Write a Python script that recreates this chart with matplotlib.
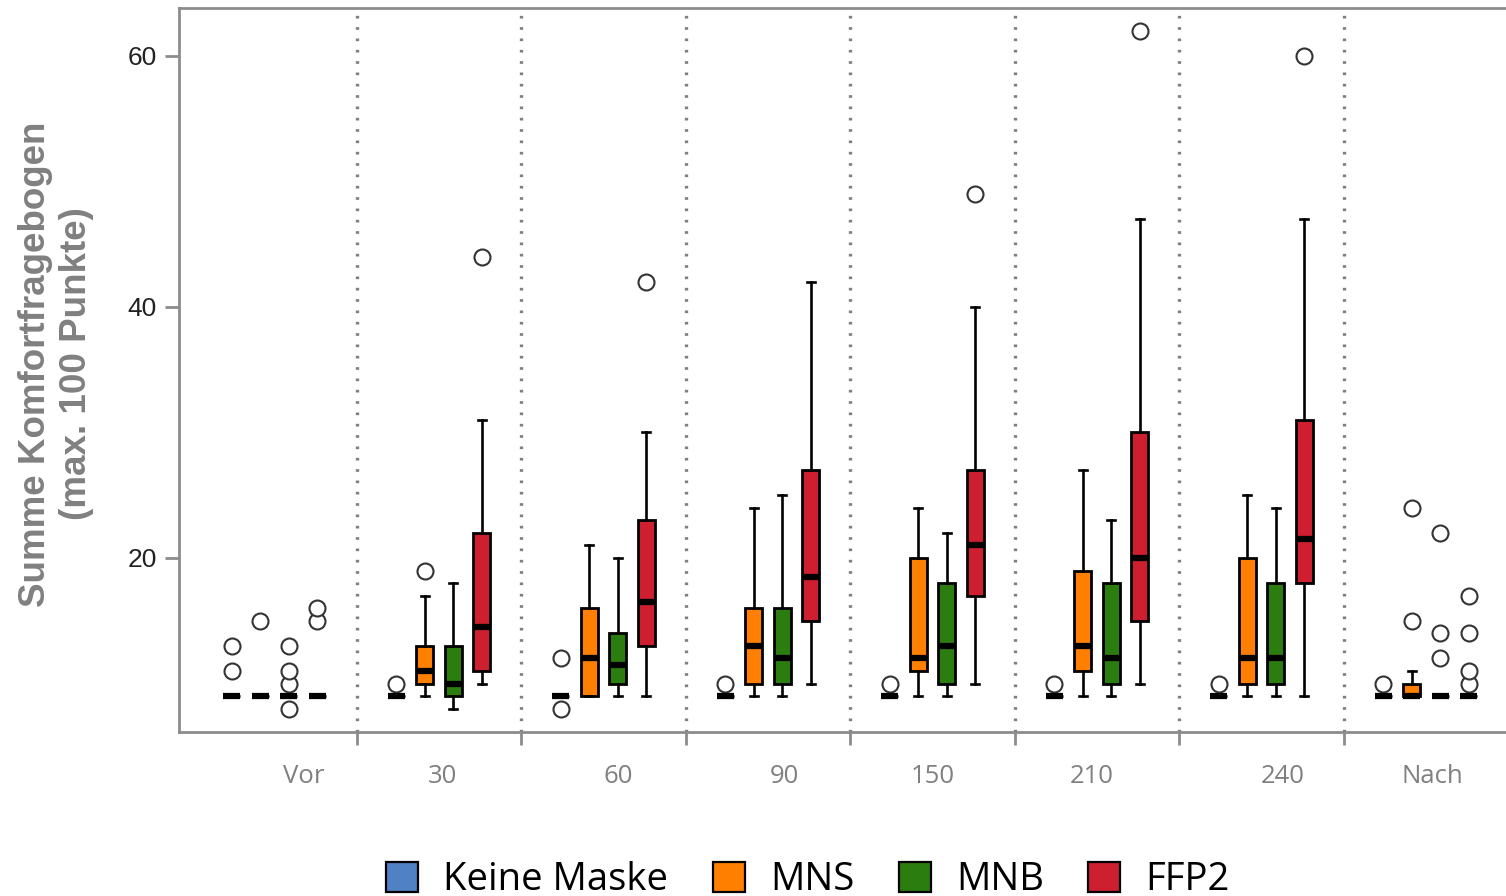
import matplotlib
matplotlib.use("Agg")
import matplotlib.pyplot as plt
from matplotlib.patches import Patch

# Measurement points and series
groups = ["Vor", "30", "60", "90", "150", "210", "240", "Nach"]
series = ["Keine Maske", "MNS", "MNB", "FFP2"]
colors = ["#4f81c4", "#ff8000", "#2b7d10", "#cd1f2f"]

# Five-number summaries per group: (whisker low, Q1, median, Q3, whisker high)
keine_stats = [(9, 9, 9, 9, 9)] * 8
keine_out = [[11, 13], [10], [8, 12], [10], [10], [10], [10], [10]]

mns_stats = [(9, 9, 9, 9, 9), (9, 10, 11, 13, 17), (9, 9, 12, 16, 21),
             (9, 10, 13, 16, 24), (9, 11, 12, 20, 24), (9, 11, 13, 19, 27),
             (9, 10, 12, 20, 25), (9, 9, 9, 10, 11)]
mns_out = [[15], [19], [], [], [], [], [], [15, 24]]

mnb_stats = [(9, 9, 9, 9, 9), (8, 9, 10, 13, 18), (9, 10, 11.5, 14, 20),
             (9, 10, 12, 16, 25), (9, 10, 13, 18, 22), (9, 10, 12, 18, 23),
             (9, 10, 12, 18, 24), (9, 9, 9, 9, 9)]
mnb_out = [[8, 10, 11, 13], [], [], [], [], [], [], [12, 14, 22]]

ffp2_stats = [(9, 9, 9, 9, 9), (10, 11, 14.5, 22, 31), (9, 13, 16.5, 23, 30),
              (10, 15, 18.5, 27, 42), (10, 17, 21, 27, 40), (10, 15, 20, 30, 47),
              (9, 18, 21.5, 31, 47), (9, 9, 9, 9, 9)]
ffp2_out = [[15, 16], [44], [42], [], [49], [62], [60], [10, 11, 14, 17]]

all_stats = [keine_stats, mns_stats, mnb_stats, ffp2_stats]
all_out = [keine_out, mns_out, mnb_out, ffp2_out]

# Layout of the grouped boxes
offsets = [-0.26, -0.087, 0.087, 0.26]
box_w = 0.103
label_x = [0.18, 1.02, 2.09, 3.10, 4.0, 4.97, 6.13, 7.04]

W, H = 1506, 896
fig = plt.figure(figsize=(W / 100, H / 100), dpi=100)
ax = fig.add_axes([179 / W, (H - 732) / H, (1525 - 179) / W, (732 - 8) / H])

spine_c = "#8c8c8c"

for s_idx in range(len(series)):
    stats = []
    positions = []
    for g_idx in range(len(groups)):
        lo, q1, med, q3, hi = all_stats[s_idx][g_idx]
        stats.append(dict(whislo=lo, q1=q1, med=med, q3=q3, whishi=hi,
                          fliers=all_out[s_idx][g_idx]))
        positions.append(g_idx + offsets[s_idx])
    ax.bxp(stats, positions=positions, widths=box_w, patch_artist=True,
           manage_ticks=False, capwidths=0.05,
           boxprops=dict(facecolor=colors[s_idx], edgecolor="black", linewidth=2.0),
           medianprops=dict(color="black", linewidth=4.5, solid_capstyle="butt"),
           whiskerprops=dict(color="black", linewidth=1.9),
           capprops=dict(color="black", linewidth=1.9),
           flierprops=dict(marker="o", markerfacecolor="white",
                           markeredgecolor="#333333", markersize=11.5,
                           markeredgewidth=1.5))

# Dotted separators between time points
for b in range(len(groups) - 1):
    ax.axvline(b + 0.5, color="#7f7f7f", linewidth=2.4,
               linestyle=(0, (0.8, 2.6)), zorder=0)

ax.set_xlim(-0.5805, 7.602)
ax.set_ylim(6.14, 63.8)

for side in ["top", "left", "bottom", "right"]:
    ax.spines[side].set_color(spine_c)
    ax.spines[side].set_linewidth(2)

# Separator ticks (major) and group labels (minor, without marks)
ax.set_xticks([b + 0.5 for b in range(len(groups) - 1)])
ax.set_xticklabels([])
ax.tick_params(axis="x", which="major", length=9, width=2, color=spine_c)
ax.set_xticks(label_x, minor=True)
ax.set_xticklabels(groups, minor=True, fontsize=18.5, color="#808080",
                   family="Open Sans")
ax.tick_params(axis="x", which="minor", length=0, pad=23)

ax.set_yticks([20, 40, 60])
ax.set_yticklabels(["20", "40", "60"], fontsize=19, color="#222222",
                   family="Liberation Sans")
ax.tick_params(axis="y", length=10, width=2, color=spine_c, pad=6)

fig.text(56 / W, 1 - 364 / H, "Summe Komfortfragebogen\n(max. 100 Punkte)",
         rotation=90, ha="center", va="center", fontsize=26.5,
         fontweight="bold", color="#808080", family="Liberation Sans",
         linespacing=1.2)

handles = [Patch(facecolor=c, edgecolor="black", linewidth=1.6) for c in colors]
fig.legend(handles, series, loc="center", bbox_to_anchor=(808 / W, 16 / H),
           ncol=4, frameon=False, prop=dict(family="Open Sans", size=27.5),
           handlelength=0.84, handleheight=0.84, handletextpad=0.66,
           columnspacing=1.16, borderpad=0)

fig.savefig("out.png", dpi=100)
